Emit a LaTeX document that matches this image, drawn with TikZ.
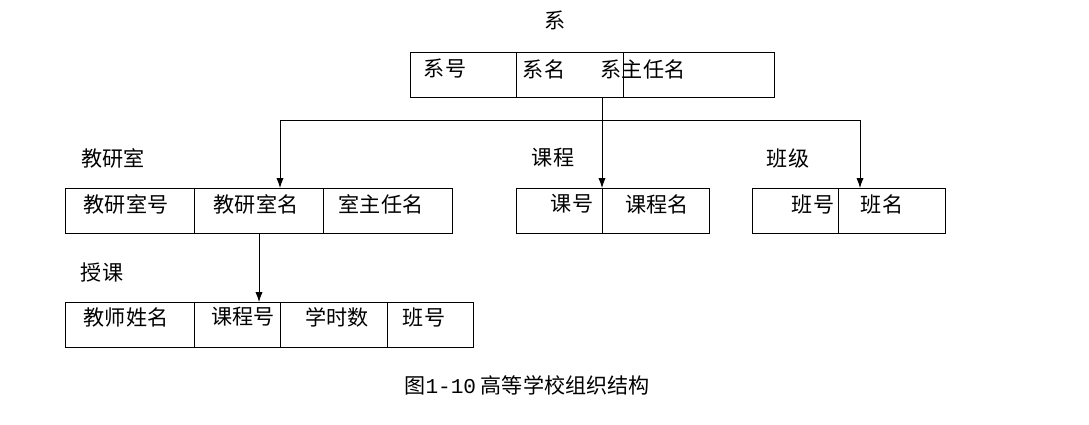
\documentclass[tikz,border=0pt]{standalone}
\usepackage{fontspec}
\setmainfont{Noto Sans CJK SC}
\setmonofont{Liberation Mono}
\usetikzlibrary{positioning, arrows.meta}

\begin{document}
\begin{tikzpicture}[x=0.025cm, y=-0.025cm,
    % cell style - plain black rectangles
    cell/.style={
        rectangle,
        draw=black,
        inner sep=0pt,
        minimum height=1.125cm
    },
    % text inside a cell
    txt/.style={
        font=\fontsize{15}{15}\selectfont,
        inner sep=0pt
    },
    % arrow style
    arrow/.style={
        -{Latex[length=2.5mm,width=1.8mm]},
        semithick
    }
]
\useasboundingbox (0,0) rectangle (1089,424);

% === Table: 系 ===
\node[txt] (xiLbl) at (555,20) {系};
\node[cell, minimum width=2.65cm, anchor=north west] (x1) at (410,52) {};
\node[cell, minimum width=2.675cm, anchor=north west] (x2) at (516,52) {};
\node[cell, minimum width=3.775cm, anchor=north west] (x3) at (623,52) {};
\node[txt] at (445,69) {系号};
\node[txt] at (544,69) {系名};
\node[txt] at (643,69) {系主任名};

% === Table: 教研室 ===
\node[txt] (jysLbl) at (113,158) {教研室};
\node[cell, minimum width=3.225cm, anchor=north west] (j1) at (65,188) {};
\node[cell, minimum width=3.225cm, anchor=north west] (j2) at (194,188) {};
\node[cell, minimum width=3.225cm, anchor=north west] (j3) at (323,188) {};
\node[txt] at (126,204) {教研室号};
\node[txt] at (256,204) {教研室名};
\node[txt] at (381,204) {室主任名};

% === Table: 课程 ===
\node[txt] (kcLbl) at (553,158) {课程};
\node[cell, minimum width=2.15cm, anchor=north west] (k1) at (516,188) {};
\node[cell, minimum width=2.675cm, anchor=north west] (k2) at (602,188) {};
\node[txt] at (572,204) {课号};
\node[txt] at (657,204) {课程名};

% === Table: 班级 ===
\node[txt] (bjLbl) at (788,158) {班级};
\node[cell, minimum width=2.15cm, anchor=north west] (b1) at (752,188) {};
\node[cell, minimum width=2.675cm, anchor=north west] (b2) at (838,188) {};
\node[txt] at (813,204) {班号};
\node[txt] at (882,204) {班名};

% === Table: 授课 ===
\node[txt] (skLbl) at (102,272) {授课};
\node[cell, minimum width=3.225cm, anchor=north west] (s1) at (65,302) {};
\node[cell, minimum width=2.15cm, anchor=north west] (s2) at (194,302) {};
\node[cell, minimum width=2.675cm, anchor=north west] (s3) at (280,302) {};
\node[cell, minimum width=2.15cm, anchor=north west] (s4) at (387,302) {};
\node[txt] at (126,317) {教师姓名};
\node[txt] at (243,317) {课程号};
\node[txt] at (337,317) {学时数};
\node[txt] at (424,317) {班号};

% === Connectors ===
\coordinate (xiOut) at (602,97);
\coordinate (busL) at (280,120);
\coordinate (busR) at (860,120);
\draw[arrow] (xiOut) -- (602,188);
\draw (busL) -- (busR);
\draw[arrow] (busL) -- (280,188);
\draw[arrow] (busR) -- (860,188);
\coordinate (jysOut) at (259,233);
\draw[arrow] (jysOut) -- (259,302);

% === Caption ===
\node[txt] (cap) at (527,385) {图{\ttfamily 1-10} 高等学校组织结构};

\end{tikzpicture}
\end{document}
